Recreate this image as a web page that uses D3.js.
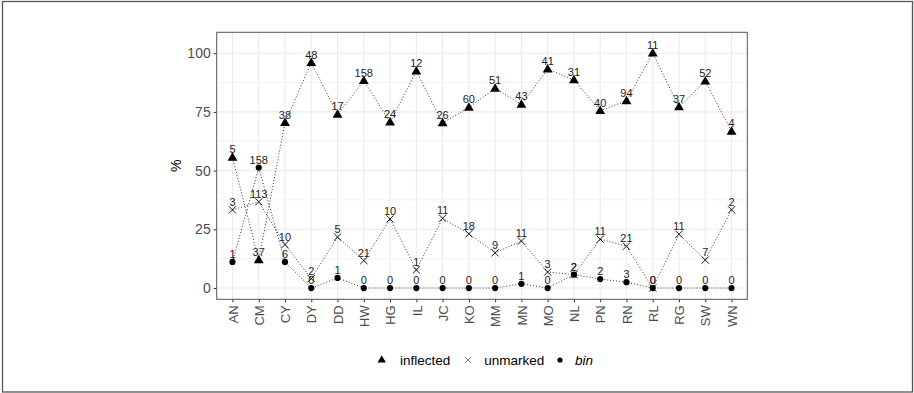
<!DOCTYPE html>
<html>
<head>
<meta charset="utf-8">
<script src="https://cdn.jsdelivr.net/npm/d3@7"></script>
<style>
  html, body { margin: 0; padding: 0; background: #fff; }
  svg { display: block; font-family: "Liberation Sans", Arial, sans-serif; }
</style>
</head>
<body>
<svg id="chart" width="914" height="393"></svg>
<script>
const categories = ["AN","CM","CY","DY","DD","HW","HG","IL","JC","KO","MM","MN","MO","NL","PN","RN","RL","RG","SW","WN"];
const inflectedPct = [55.6, 12.0, 70.4, 96.0, 73.9, 88.3, 70.6, 92.3, 70.3, 76.9, 85.0, 78.2, 93.2, 88.6, 75.5, 79.7, 100, 77.1, 88.1, 66.7];
const unmarkedPct  = [33.3, 36.7, 18.5, 4.0, 21.7, 11.7, 29.4, 7.7, 29.7, 23.1, 15.0, 20.0, 6.8, 5.7, 20.8, 17.8, 0, 22.9, 11.9, 33.3];
const binPct       = [11.1, 51.3, 11.1, 0, 4.3, 0, 0, 0, 0, 0, 0, 1.8, 0, 5.7, 3.8, 2.5, 0, 0, 0, 0];
const inflectedN = [5, 37, 38, 48, 17, 158, 24, 12, 26, 60, 51, 43, 41, 31, 40, 94, 11, 37, 52, 4];
const unmarkedN  = [3, 113, 10, 2, 5, 21, 10, 1, 11, 18, 9, 11, 3, 2, 11, 21, 0, 11, 7, 2];
const binN       = [1, 158, 6, 0, 1, 0, 0, 0, 0, 0, 0, 1, 0, 2, 2, 3, 0, 0, 0, 0];
const yTicks = [0, 25, 50, 75, 100];
const seriesNames = ["inflected", "unmarked", "bin"];

const svg = d3.select("#chart");
const panel = {left: 216.7, right: 747.3, top: 32.3, bottom: 299.3};

const x = d3.scalePoint().domain(categories).range([panel.left, panel.right]).padding(0.6);
const y = d3.scaleLinear().domain([-4.8, 108.9]).range([panel.bottom, panel.top]);

// outer border
svg.append("rect").attr("x", 2.5).attr("y", 1.5).attr("width", 910).attr("height", 390.5)
  .attr("fill", "none").attr("stroke", "#555").attr("stroke-width", 1.3);

// gridlines
const g = svg.append("g");
const minor = [12.5, 37.5, 62.5, 87.5];
g.selectAll(".minor").data(minor).enter().append("line")
  .attr("x1", panel.left).attr("x2", panel.right)
  .attr("y1", d => y(d)).attr("y2", d => y(d))
  .attr("stroke", "#EBEBEB").attr("stroke-width", 0.6);
g.selectAll(".major").data(yTicks).enter().append("line")
  .attr("x1", panel.left).attr("x2", panel.right)
  .attr("y1", d => y(d)).attr("y2", d => y(d))
  .attr("stroke", "#EBEBEB").attr("stroke-width", 1.1);
g.selectAll(".vmajor").data(categories).enter().append("line")
  .attr("x1", d => x(d)).attr("x2", d => x(d))
  .attr("y1", panel.top).attr("y2", panel.bottom)
  .attr("stroke", "#EBEBEB").attr("stroke-width", 1.1);

// axes
const yAxis = d3.axisLeft(y).tickValues(yTicks).tickSize(3).tickPadding(3);
const ya = svg.append("g").attr("transform", `translate(${panel.left},0)`).call(yAxis);
ya.select(".domain").remove();
ya.selectAll("line").attr("stroke", "#333");
ya.selectAll("text").attr("fill", "#4D4D4D").style("font-size", "14px");

const xAxis = d3.axisBottom(x).tickSize(3).tickPadding(0);
const xa = svg.append("g").attr("transform", `translate(0,${panel.bottom})`).call(xAxis);
xa.select(".domain").remove();
xa.selectAll("line").attr("stroke", "#333");
xa.selectAll("text").attr("fill", "#4D4D4D").style("font-size", "13px")
  .attr("transform", "rotate(-90)").attr("text-anchor", "end")
  .attr("x", -6).attr("y", 0).attr("dy", "0.36em");

// y title
svg.append("text").attr("transform", `translate(181,${(panel.top + panel.bottom) / 2}) rotate(-90)`)
  .attr("text-anchor", "middle").style("font-size", "14px").attr("fill", "#000").text("%");

const series = [
  {name: "inflected", pct: inflectedPct, n: inflectedN},
  {name: "unmarked", pct: unmarkedPct, n: unmarkedN},
  {name: "bin", pct: binPct, n: binN}
];

const line = d3.line().x(d => x(d.c)).y(d => y(d.v));
const plot = svg.append("g");
series.forEach(s => {
  const pts = categories.map((c, i) => ({c, v: s.pct[i], n: s.n[i]}));
  plot.append("path").datum(pts).attr("d", line).attr("fill", "none")
    .attr("stroke", "#333").attr("stroke-width", 1).attr("stroke-dasharray", "1,2");
});

const tri = d3.symbol().type(d3.symbolTriangle).size(42);
function drawMarker(sel, name, cx, cy) {
  if (name === "inflected") {
    sel.append("path").attr("d", tri()).attr("transform", `translate(${cx},${cy + 0.5})`).attr("fill", "#000");
  } else if (name === "unmarked") {
    const r = 3.6;
    sel.append("path").attr("d", `M${cx - r},${cy - r}L${cx + r},${cy + r}M${cx - r},${cy + r}L${cx + r},${cy - r}`)
      .attr("stroke", "#000").attr("stroke-width", 0.9).attr("fill", "none");
  } else {
    sel.append("circle").attr("cx", cx).attr("cy", cy).attr("r", 3.1).attr("fill", "#000");
  }
}
series.forEach(s => {
  categories.forEach((c, i) => drawMarker(plot, s.name, x(c), y(s.pct[i])));
});
series.forEach(s => {
  plot.selectAll(null).data(categories).enter().append("text")
    .attr("x", d => x(d)).attr("y", (d, i) => y(s.pct[i]) - 8)
    .attr("dy", "0.36em").attr("text-anchor", "middle")
    .style("font-size", "11px").attr("fill", "#222")
    .text((d, i) => s.n[i]);
});

// panel border
svg.append("rect").attr("x", panel.left).attr("y", panel.top)
  .attr("width", panel.right - panel.left).attr("height", panel.bottom - panel.top)
  .attr("fill", "none").attr("stroke", "#555").attr("stroke-width", 1);

// legend
const legY = 360;
const legX = [381.7, 468, 560];
const legTX = [400, 484.3, 575];
const lg = svg.append("g");
seriesNames.forEach((nm, i) => {
  if (nm === "inflected") {
    lg.append("path").attr("d", d3.symbol().type(d3.symbolTriangle).size(30)())
      .attr("transform", `translate(${legX[i]},${legY})`).attr("fill", "#000");
  } else if (nm === "unmarked") {
    const r = 3.2, cx = legX[i], cy = legY;
    lg.append("path").attr("d", `M${cx - r},${cy - r}L${cx + r},${cy + r}M${cx - r},${cy + r}L${cx + r},${cy - r}`)
      .attr("stroke", "#777").attr("stroke-width", 0.9);
  } else {
    lg.append("circle").attr("cx", legX[i]).attr("cy", legY).attr("r", 2.6).attr("fill", "#000");
  }
  lg.append("text").attr("x", legTX[i]).attr("y", legY).attr("dy", "0.36em")
    .style("font-size", "13.5px").style("font-style", nm === "bin" ? "italic" : "normal")
    .attr("fill", "#000").text(nm);
});
</script>
</body>
</html>
